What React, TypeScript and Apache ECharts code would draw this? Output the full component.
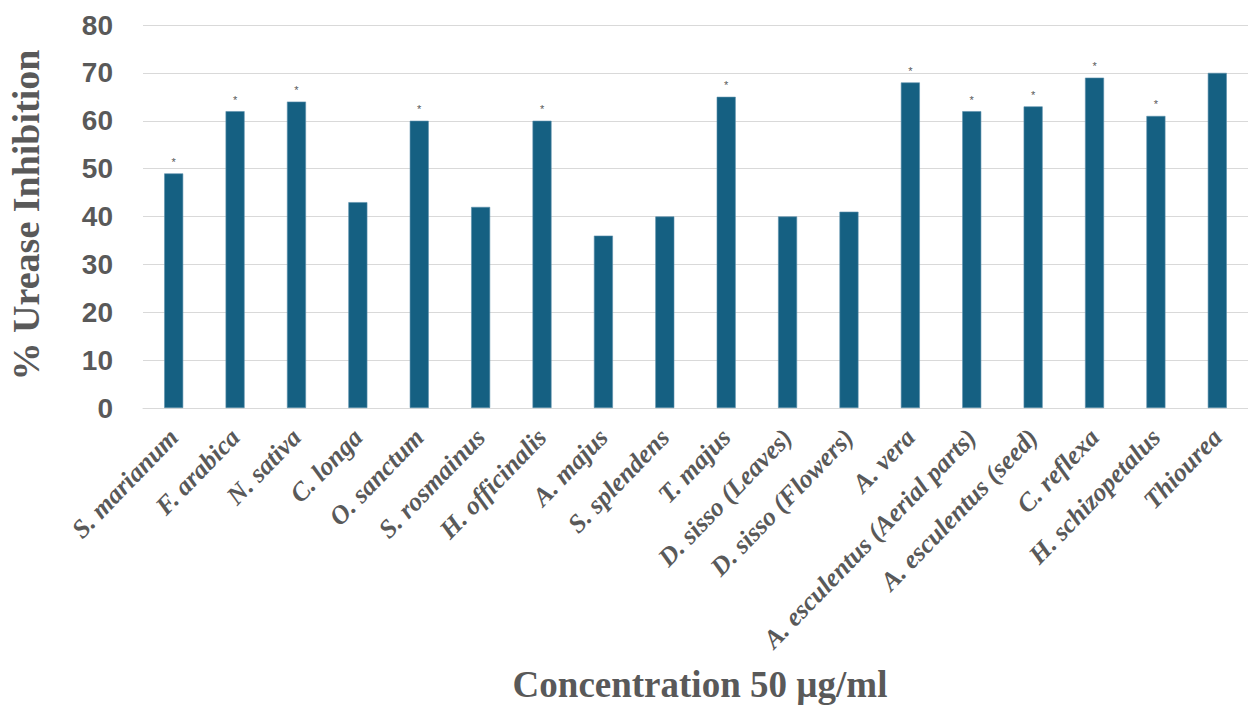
import React, { useEffect, useRef } from "react";
import * as echarts from "echarts";

const categories = [
  "S. marianum", "F. arabica", "N. sativa", "C. longa", "O. sanctum", "S. rosmainus",
  "H. officinalis", "A. majus", "S. splendens", "T. majus", "D. sisso (Leaves)",
  "D. sisso (Flowers)", "A. vera", "A. esculentus (Aerial parts)", "A. esculentus (seed)",
  "C. reflexa", "H. schizopetalus", "Thiourea",
];
const inhibition = [49, 62, 64, 43, 60, 42, 60, 36, 40, 65, 40, 41, 68, 62, 63, 69, 61, 70];
const marks = ["*", "*", "*", "", "*", "", "*", "", "", "*", "", "", "*", "*", "*", "*", "*", ""];
const yTicks = [0, 10, 20, 30, 40, 50, 60, 70, 80];

export default function App() {
  const ref = useRef<HTMLDivElement>(null);
  useEffect(() => {
    document.body.style.margin = "0";
    const chart = echarts.init(ref.current!, undefined, { renderer: "svg" });
    chart.setOption({
      animation: false,
      backgroundColor: "#ffffff",
      grid: { left: 143, right: 0, top: 25, bottom: 298, containLabel: false },
      xAxis: {
        type: "category",
        data: categories,
        axisLine: { show: true, lineStyle: { color: "#d9d9d9", width: 1 } },
        axisTick: { show: false },
        axisLabel: {
          interval: 0,
          rotate: 46,
          margin: 25,
          color: "#595959",
          fontFamily: "Liberation Serif",
          fontWeight: "bold",
          fontStyle: "italic",
          fontSize: 26,
        },
      },
      yAxis: {
        type: "value",
        min: yTicks[0],
        max: yTicks[yTicks.length - 1],
        interval: 10,
        axisLine: { show: false },
        axisTick: { show: false },
        splitLine: { lineStyle: { color: "#d9d9d9", width: 1 } },
        axisLabel: {
          margin: 30,
          color: "#595959",
          fontFamily: "Liberation Sans",
          fontWeight: "bold",
          fontSize: 28,
        },
      },
      series: [
        {
          type: "bar",
          data: inhibition,
          barWidth: 19,
          itemStyle: { color: "#156082", borderColor: "#5b8fab", borderWidth: 0.6 },
          label: {
            show: true,
            position: "top",
            distance: 6,
            color: "#595959",
            fontSize: 11,
            fontFamily: "Liberation Sans",
            formatter: (p: any) => marks[p.dataIndex],
          },
        },
      ],
      graphic: [
        {
          type: "text",
          x: 26,
          y: 215,
          rotation: Math.PI / 2,
          style: {
            text: "% Urease Inhibition",
            fill: "#595959",
            font: "bold 38px 'Liberation Serif'",
            textAlign: "center",
            textVerticalAlign: "middle",
          },
        },
        {
          type: "text",
          x: 700,
          y: 684,
          style: {
            text: "Concentration 50 µg/ml",
            fill: "#595959",
            font: "bold 37px 'Liberation Serif'",
            textAlign: "center",
            textVerticalAlign: "middle",
          },
        },
      ],
    });
    return () => chart.dispose();
  }, []);
  return <div ref={ref} style={{ width: 1248, height: 706 }} />;
}
